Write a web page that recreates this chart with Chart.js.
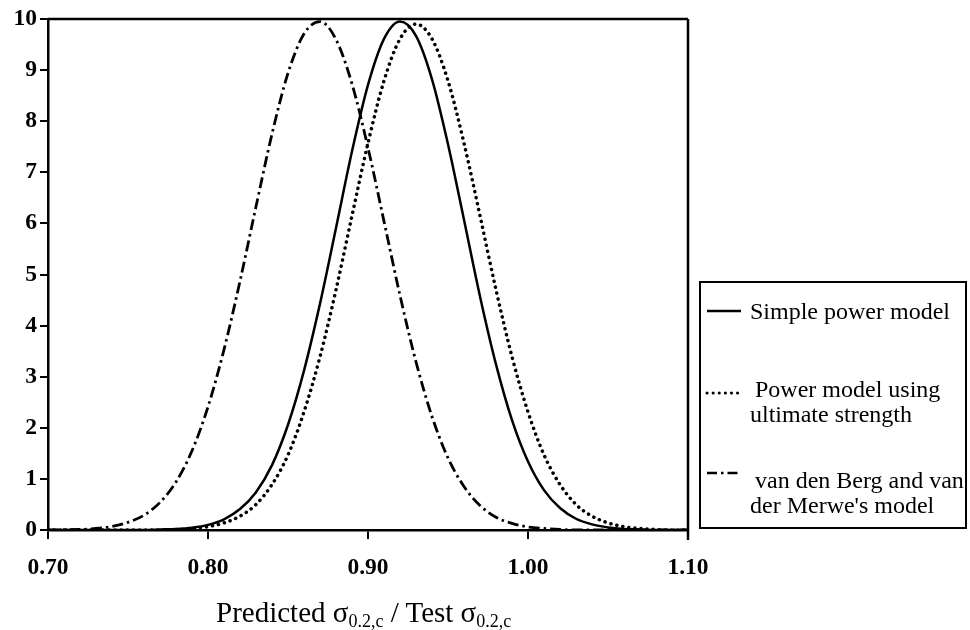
<!DOCTYPE html>
<html>
<head>
<meta charset="utf-8">
<script src="https://cdn.jsdelivr.net/npm/chart.js@4/dist/chart.umd.min.js"></script>
<style>
  body { margin: 0; background: #fff; font-family: "Liberation Serif", "DejaVu Serif", serif; }
  #wrap { position: relative; width: 970px; height: 630px; }
  #legendBox {
    position: absolute; left: 699px; top: 281px; width: 268px; height: 248px;
    border: 2px solid #000; box-sizing: border-box;
  }
  .entry { position: absolute; left: 0; width: 266px; }
  .entry svg { position: absolute; left: 4px; }
  .entry .txt { position: absolute; left: 49px; font-size: 24px; line-height: 25px; color: #000; white-space: nowrap; }
  #xTitle {
    position: absolute; left: 216px; top: 596px; font-size: 29px; color: #000; white-space: nowrap;
  }
  #xTitle sub { font-size: 18px; vertical-align: -5px; line-height: 0; }
</style>
</head>
<body>
<div id="wrap">
  <canvas id="chart" width="970" height="630"></canvas>
  <div id="legendBox"></div>
  <div id="xTitle">Predicted σ<sub>0.2,c</sub> / Test σ<sub>0.2,c</sub></div>
</div>
<script>
// x values (Predicted / Test ratio)
const ratios = [0.70, 0.71, 0.72, 0.73, 0.74, 0.75, 0.76, 0.77, 0.78, 0.79,
  0.80, 0.81, 0.82, 0.83, 0.84, 0.85, 0.86, 0.87, 0.88, 0.89,
  0.90, 0.91, 0.92, 0.93, 0.94, 0.95, 0.96, 0.97, 0.98, 0.99,
  1.00, 1.01, 1.02, 1.03, 1.04, 1.05, 1.06, 1.07, 1.08, 1.09, 1.10];

// Simple power model
const simplePower = [0, 0, 0, 0, 0, 0, 0, 0.01, 0.02, 0.045,
  0.10, 0.21, 0.41, 0.74, 1.27, 2.06, 3.12, 4.43, 5.91, 7.41,
  8.71, 9.61, 9.95, 9.67, 8.82, 7.55, 6.07, 4.57, 3.24, 2.15,
  1.34, 0.78, 0.43, 0.22, 0.11, 0.05, 0.02, 0.01, 0, 0, 0];

// Power model using ultimate strength
const powerUltimate = [0, 0, 0, 0, 0, 0, 0, 0, 0.01, 0.03,
  0.065, 0.14, 0.27, 0.50, 0.89, 1.47, 2.31, 3.39, 4.70, 6.15,
  7.57, 8.79, 9.61, 9.90, 9.61, 8.79, 7.57, 6.15, 4.70, 3.39,
  2.31, 1.47, 0.89, 0.50, 0.27, 0.14, 0.065, 0.03, 0.01, 0, 0];

// van den Berg and van der Merwe's model
const vanDenBerg = [0, 0.005, 0.01, 0.03, 0.07, 0.15, 0.29, 0.54, 0.94, 1.55,
  2.41, 3.53, 4.87, 6.33, 7.75, 8.94, 9.71, 9.95, 9.60, 8.73,
  7.48, 6.04, 4.59, 3.29, 2.22, 1.41, 0.85, 0.48, 0.25, 0.13,
  0.06, 0.03, 0.01, 0, 0, 0, 0, 0, 0, 0, 0];

const xTicks = [0.70, 0.80, 0.90, 1.00, 1.10];
const yTicks = [0, 1, 2, 3, 4, 5, 6, 7, 8, 9, 10];

const seriesNames = ['Simple power model', 'Power model using|ultimate strength', "van den Berg and van|der Merwe's model"];

const toPoints = arr => arr.map((v, i) => ({ x: ratios[i], y: v }));

// top and right frame lines
const framePlugin = {
  id: 'frame',
  afterDraw(chart) {
    const { ctx, chartArea: a } = chart;
    ctx.save();
    ctx.strokeStyle = '#000';
    ctx.lineWidth = 2.5;
    ctx.beginPath();
    ctx.moveTo(a.left, a.top);
    ctx.lineTo(a.right, a.top);
    ctx.moveTo(a.right, a.top);
    ctx.lineTo(a.right, a.bottom + 10);
    ctx.stroke();
    ctx.restore();
  }
};

const styles = [
  { borderDash: [], cap: 'butt', width: 2.5 },
  { borderDash: [0.1, 6], cap: 'round', width: 3.5 },
  { borderDash: [11, 4, 2.5, 4], cap: 'butt', width: 2.8 }
];

const ctx = document.getElementById('chart').getContext('2d');
const chart = new Chart(ctx, {
  type: 'line',
  data: {
    datasets: [simplePower, powerUltimate, vanDenBerg].map((d, i) => ({
      label: seriesNames[i].replace('|', ' '),
      data: toPoints(d),
      borderColor: '#000',
      borderWidth: styles[i].width,
      borderDash: styles[i].borderDash,
      borderCapStyle: styles[i].cap,
      pointRadius: 0,
      fill: false,
      cubicInterpolationMode: 'monotone'
    }))
  },
  options: {
    responsive: false,
    animation: false,
    layout: { padding: { top: 19, right: 282, left: 0, bottom: 0 } },
    plugins: { legend: { display: false }, tooltip: { enabled: false } },
    scales: {
      x: {
        type: 'linear',
        min: 0.70,
        max: 1.10,
        afterBuildTicks: s => { s.ticks = xTicks.map(v => ({ value: v })); },
        afterFit: s => { s.height = 100; },
        grid: { drawOnChartArea: false, tickLength: 9, color: '#000', lineWidth: 2 },
        border: { color: '#000', width: 2.5 },
        ticks: {
          color: '#000',
          padding: 15,
          maxRotation: 0,
          font: { family: 'Liberation Serif', size: 23.5, weight: 'bold' },
          callback: v => Number(v).toFixed(2)
        }
      },
      y: {
        min: 0,
        max: 10,
        afterBuildTicks: s => { s.ticks = yTicks.map(v => ({ value: v })); },
        afterFit: s => { s.width = 48; },
        grid: { drawOnChartArea: false, tickLength: 8, color: '#000', lineWidth: 2 },
        border: { color: '#000', width: 2.5 },
        ticks: {
          color: '#000',
          padding: 3,
          font: { family: 'Liberation Serif', size: 23.5, weight: 'bold' }
        }
      }
    }
  },
  plugins: [framePlugin]
});

// legend box
const legendBox = document.getElementById('legendBox');
const dashes = ['', '0.1,6', '10,4,2.5,4'];
const caps = ['butt', 'round', 'butt'];
const sampleY = [28, 110, 190];
const textTop = [16, 94, 185];
seriesNames.forEach((name, i) => {
  const e = document.createElement('div');
  e.className = 'entry';
  e.style.top = '0px';
  const lines = name.split('|');
  e.innerHTML =
    `<svg width="40" height="10" style="top:${sampleY[i] - 5}px"><line x1="2" y1="5" x2="36" y2="5" stroke="#000" stroke-width="${i === 1 ? 3 : 2.5}" stroke-linecap="${caps[i]}" stroke-dasharray="${dashes[i]}"/></svg>` +
    `<div class="txt" style="top:${textTop[i]}px">${lines.map((l, j) => `<div style="margin-left:${j === 0 && lines.length > 1 ? 5 : 0}px">${l}</div>`).join('')}</div>`;
  legendBox.appendChild(e);
});
</script>
</body>
</html>
